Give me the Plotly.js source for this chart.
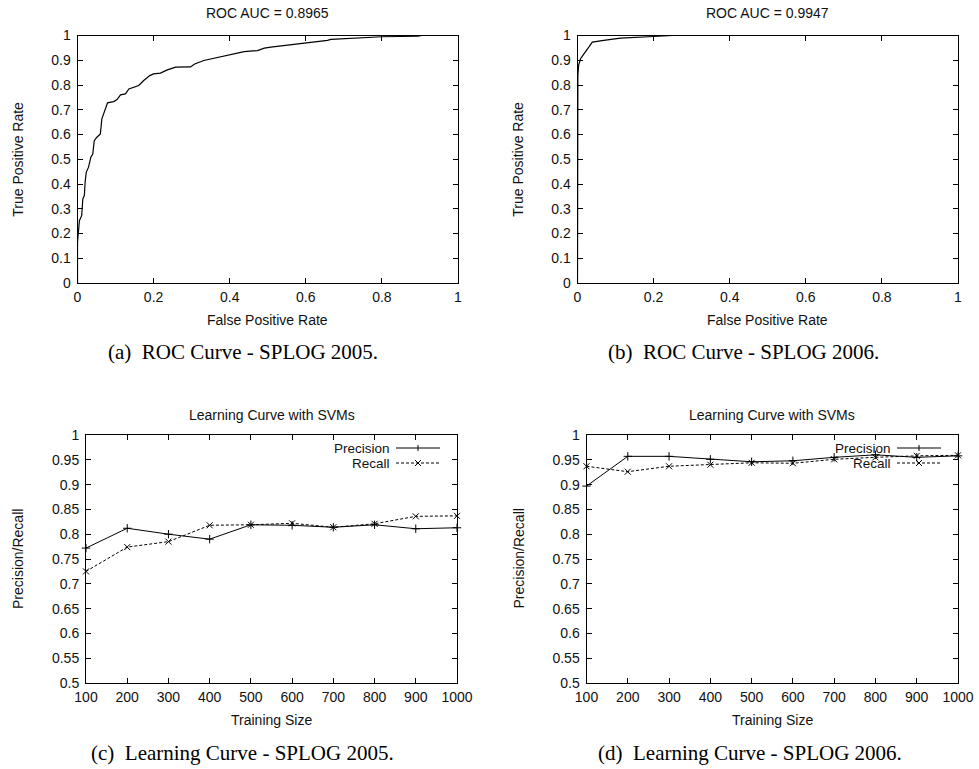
<!DOCTYPE html>
<html>
<head>
<meta charset="utf-8">
<script src="https://cdn.plot.ly/plotly-3.0.1.min.js"></script>
<style>html,body{margin:0;padding:0;background:#fff;}#chart{width:979px;height:769px;}</style>
</head>
<body>
<div id="chart"></div>
<script>
// ---- Data ----
const rocA_fpr = [0,0,0.005,0.011,0.014,0.018,0.02,0.023,0.029,0.035,0.04,0.044,0.051,0.06,0.064,0.069,0.079,0.095,0.104,0.113,0.126,0.135,0.148,0.161,0.174,0.19,0.2,0.218,0.236,0.258,0.297,0.308,0.332,0.368,0.403,0.438,0.473,0.491,0.508,0.55,0.6,0.657,0.666,0.763,0.8,0.895,0.904,1];
const rocA_tpr = [0,0.164,0.252,0.272,0.34,0.353,0.407,0.447,0.468,0.508,0.52,0.575,0.589,0.602,0.663,0.683,0.728,0.733,0.741,0.76,0.764,0.784,0.791,0.798,0.818,0.838,0.845,0.848,0.861,0.872,0.873,0.885,0.899,0.912,0.922,0.935,0.939,0.949,0.953,0.96,0.968,0.98,0.984,0.992,0.995,0.997,1,1];
const rocB_fpr = [0,0,0.001,0.003,0.008,0.017,0.039,0.069,0.113,0.2,0.25,1];
const rocB_tpr = [0,0.81,0.84,0.88,0.906,0.926,0.973,0.98,0.989,0.996,1,1];
const trainSize = [100,200,300,400,500,600,700,800,900,1000];
const prec2005 = [0.772,0.812,0.800,0.790,0.819,0.818,0.814,0.819,0.811,0.813];
const rec2005  = [0.725,0.774,0.785,0.818,0.819,0.822,0.814,0.821,0.836,0.837];
const prec2006 = [0.897,0.957,0.957,0.951,0.946,0.948,0.955,0.960,0.955,0.958];
const rec2006  = [0.937,0.926,0.937,0.940,0.944,0.943,0.951,0.955,0.958,0.959];
const rocTitles = ['ROC AUC = 0.8965','ROC AUC = 0.9947'];
const lcTitle = 'Learning Curve with SVMs';
const captions = ['(a)\u00a0\u00a0ROC Curve - SPLOG 2005.','(b)\u00a0\u00a0ROC Curve - SPLOG 2006.','(c)\u00a0\u00a0Learning Curve - SPLOG 2005.','(d)\u00a0\u00a0Learning Curve - SPLOG 2006.'];
const legendNames = ['Precision','Recall'];

// ---- Layout helpers ----
const W = 979, H = 769;
const fx = p => p / W;
const fy = p => 1 - p / H;
const SANS = 'Liberation Sans, Arial, sans-serif';
const SERIF = 'Liberation Serif, Times New Roman, serif';

function axis(domain, range, dtick, tick0, anchor, isY) {
  return {
    domain: domain, range: range, dtick: dtick, tick0: tick0, anchor: anchor,
    showgrid: false, zeroline: false, showline: true, linecolor: '#000', linewidth: 1,
    mirror: 'ticks', ticks: 'inside', ticklen: 5, tickcolor: '#000', tickwidth: 1,
    ticklabelstandoff: isY ? 3 : 1,
    tickfont: {family: SANS, size: 14, color: '#111'}, automargin: false, fixedrange: true
  };
}

// panel pixel boxes [left, right, top, bottom]
const P = [
  [77.5, 458, 35.5, 283],
  [577.5, 958, 35.5, 283],
  [86, 457, 435, 683],
  [586.5, 958, 435, 683]
];

const layout = {
  width: W, height: H, margin: {l: 0, r: 0, t: 0, b: 0},
  paper_bgcolor: '#fff', plot_bgcolor: '#fff', showlegend: false,
  xaxis:  axis([fx(P[0][0]), fx(P[0][1])], [0, 1], 0.2, 0, 'y'),
  yaxis:  axis([fy(P[0][3]), fy(P[0][2])], [0, 1], 0.1, 0, 'x', true),
  xaxis2: axis([fx(P[1][0]), fx(P[1][1])], [0, 1], 0.2, 0, 'y2'),
  yaxis2: axis([fy(P[1][3]), fy(P[1][2])], [0, 1], 0.1, 0, 'x2', true),
  xaxis3: axis([fx(P[2][0]), fx(P[2][1])], [100, 1000], 100, 100, 'y3'),
  yaxis3: axis([fy(P[2][3]), fy(P[2][2])], [0.5, 1], 0.05, 0.5, 'x3', true),
  xaxis4: axis([fx(P[3][0]), fx(P[3][1])], [100, 1000], 100, 100, 'y4'),
  yaxis4: axis([fy(P[3][3]), fy(P[3][2])], [0.5, 1], 0.05, 0.5, 'x4', true),
  annotations: [], shapes: []
};

function txt(text, x, y, size, family, opts) {
  return Object.assign({text: text, x: x, y: y, xref: 'paper', yref: 'paper', showarrow: false,
    font: {family: family, size: size, color: '#111'}, xanchor: 'center', yanchor: 'middle'}, opts || {});
}

// titles, axis titles, captions
const A = layout.annotations;
[0,1].forEach(i => {
  const p = P[i];
  A.push(txt(rocTitles[i], fx((p[0]+p[1])/2), fy(13.5), 14, SANS));
  A.push(txt('False Positive Rate', fx((p[0]+p[1])/2), fy(320), 14, SANS));
  A.push(txt('True Positive Rate', fx(p[0]-59), fy((p[2]+p[3])/2), 14, SANS, {textangle: -90}));
});
[2,3].forEach(i => {
  const p = P[i];
  A.push(txt(lcTitle, fx((p[0]+p[1])/2), fy(415), 14, SANS));
  A.push(txt('Training Size', fx((p[0]+p[1])/2), fy(720), 14, SANS));
  A.push(txt('Precision/Recall', fx(p[0]-68), fy((p[2]+p[3])/2), 14, SANS, {textangle: -90}));
});
const capY = [352, 352, 753, 753];
const capX = [242.5, 743, 242.5, 750];
captions.forEach((c, i) => A.push(txt(c, fx(capX[i]), fy(capY[i]), 21, SERIF, {font: {family: SERIF, size: 21, color: '#000'}})));

// custom gnuplot-style keys (text then sample)
[[2,'x3','y3'],[3,'x4','y4']].forEach(([i, xr, yr]) => {
  const p = P[i];
  const w = p[1]-p[0], h = p[3]-p[2];
  const rows = [13, 28];
  rows.forEach((ry, k) => {
    const yf = 1 - ry / h;
    A.push({text: legendNames[k], x: 1 - 66 / w, y: yf, xref: xr + ' domain', yref: yr + ' domain',
      showarrow: false, xanchor: 'right', yanchor: 'middle', borderpad: 0,
      font: {family: SANS, size: 13.5, color: '#111'}});
    layout.shapes.push({type: 'line', xref: xr + ' domain', yref: yr + ' domain',
      x0: 1 - 61 / w, x1: 1 - 17 / w, y0: yf, y1: yf,
      line: {color: '#000', width: 1, dash: k === 0 ? 'solid' : '3px,2px'}});
    const cx = 1 - 39 / w, dx = 3 / w, dy = 3 / h;
    if (k === 0) {
      layout.shapes.push({type: 'line', xref: xr + ' domain', yref: yr + ' domain', x0: cx, x1: cx, y0: yf - dy, y1: yf + dy, line: {color: '#000', width: 1}});
    } else {
      layout.shapes.push({type: 'line', xref: xr + ' domain', yref: yr + ' domain', x0: cx - dx, x1: cx + dx, y0: yf - dy, y1: yf + dy, line: {color: '#000', width: 1}});
      layout.shapes.push({type: 'line', xref: xr + ' domain', yref: yr + ' domain', x0: cx - dx, x1: cx + dx, y0: yf + dy, y1: yf - dy, line: {color: '#000', width: 1}});
    }
  });
});

const precMarker = {symbol: 'cross-thin-open', size: 6, line: {color: '#000', width: 1}, color: '#000'};
const recMarker  = {symbol: 'x-thin-open', size: 6, line: {color: '#000', width: 1}, color: '#000'};

const data = [
  {x: rocA_fpr, y: rocA_tpr, xaxis: 'x', yaxis: 'y', mode: 'lines', line: {color: '#000', width: 1.2}, name: 'ROC 2005'},
  {x: rocB_fpr, y: rocB_tpr, xaxis: 'x2', yaxis: 'y2', mode: 'lines', line: {color: '#000', width: 1.2}, name: 'ROC 2006'},
  {x: trainSize, y: prec2005, xaxis: 'x3', yaxis: 'y3', mode: 'lines+markers', line: {color: '#000', width: 1}, marker: precMarker, name: legendNames[0]},
  {x: trainSize, y: rec2005, xaxis: 'x3', yaxis: 'y3', mode: 'lines+markers', line: {color: '#000', width: 1, dash: '3px,2px'}, marker: recMarker, name: legendNames[1]},
  {x: trainSize, y: prec2006, xaxis: 'x4', yaxis: 'y4', mode: 'lines+markers', line: {color: '#000', width: 1}, marker: precMarker, name: legendNames[0]},
  {x: trainSize, y: rec2006, xaxis: 'x4', yaxis: 'y4', mode: 'lines+markers', line: {color: '#000', width: 1, dash: '3px,2px'}, marker: recMarker, name: legendNames[1]}
];
data.forEach(t => { t.cliponaxis = false; });

Plotly.newPlot('chart', data, layout, {staticPlot: true, displayModeBar: false});
</script>
</body>
</html>
